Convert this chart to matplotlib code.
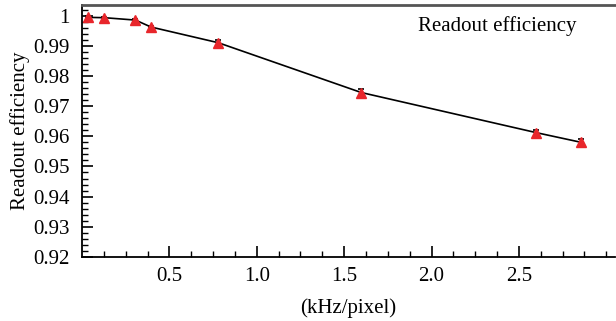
import numpy as np
import matplotlib
matplotlib.use("Agg")
import matplotlib.pyplot as plt
from matplotlib.ticker import MultipleLocator, FixedLocator

# data
rate = [0.034, 0.127, 0.306, 0.395, 0.78, 1.598, 2.60, 2.856]
eff = [0.9994, 0.9993, 0.9985, 0.9962, 0.9910, 0.9745, 0.9612, 0.9580]
eff_err = [0.0003, 0.0003, 0.0003, 0.0003, 0.0010, 0.0013, 0.0010, 0.0010]

y_ticks = [0.92, 0.93, 0.94, 0.95, 0.96, 0.97, 0.98, 0.99, 1.0]
y_labels = ["0.92", "0.93", "0.94", "0.95", "0.96", "0.97", "0.98", "0.99", "1"]
x_ticks = [0.5, 1.0, 1.5, 2.0, 2.5]
x_labels = ["0.5", "1.0", "1.5", "2.0", "2.5"]

plt.rcParams['font.family'] = ['Liberation Serif', 'DejaVu Serif']
fs = 15

fig = plt.figure(figsize=(6.16, 3.21), dpi=100)
ax = fig.add_axes([82 / 616, 1 - 257 / 321, (615 - 82) / 616, (257 - 5) / 321])

ax.plot(rate, eff, color='black', lw=1.2, zorder=2)
ax.errorbar(rate, eff, yerr=eff_err, fmt='none', ecolor='black', elinewidth=1.2,
            capsize=2.5, capthick=1.2, zorder=3)
ax.plot(rate, eff, ls='none', marker='^', ms=6.5, color='#e8262b', zorder=4)

ax.set_xlim(0, 3.05)
ax.set_ylim(0.92, 1.0035)

ax.set_xticks(x_ticks)
ax.set_xticklabels(x_labels)
ax.xaxis.set_minor_locator(FixedLocator(np.arange(0.125, 3.05, 0.125)))
ax.set_yticks(y_ticks)
ax.set_yticklabels(y_labels)
ax.yaxis.set_minor_locator(MultipleLocator(0.002))

ax.tick_params(axis='both', which='major', direction='in', length=8, width=1.2,
               labelsize=fs, colors='black')
ax.tick_params(axis='both', which='minor', direction='in', length=4, width=1.0)
ax.tick_params(axis='x', which='major', pad=7)
ax.tick_params(axis='y', which='major', pad=9)
ax.tick_params(axis='x', which='both', top=False)
ax.tick_params(axis='y', which='both', right=False)

ax.spines['right'].set_visible(False)
ax.spines['top'].set_color('#555555')
ax.spines['top'].set_linewidth(2)
ax.spines['left'].set_linewidth(1.3)
ax.spines['bottom'].set_linewidth(1.3)

ax.set_xlabel('(kHz/pixel)', fontsize=fs, labelpad=9)
ax.set_ylabel('Readout efficiency', fontsize=fs, labelpad=2)

ax.text(0.78, 0.917, 'Readout efficiency', transform=ax.transAxes,
        ha='center', va='center', fontsize=fs)

fig.savefig('out.png', dpi=100)
